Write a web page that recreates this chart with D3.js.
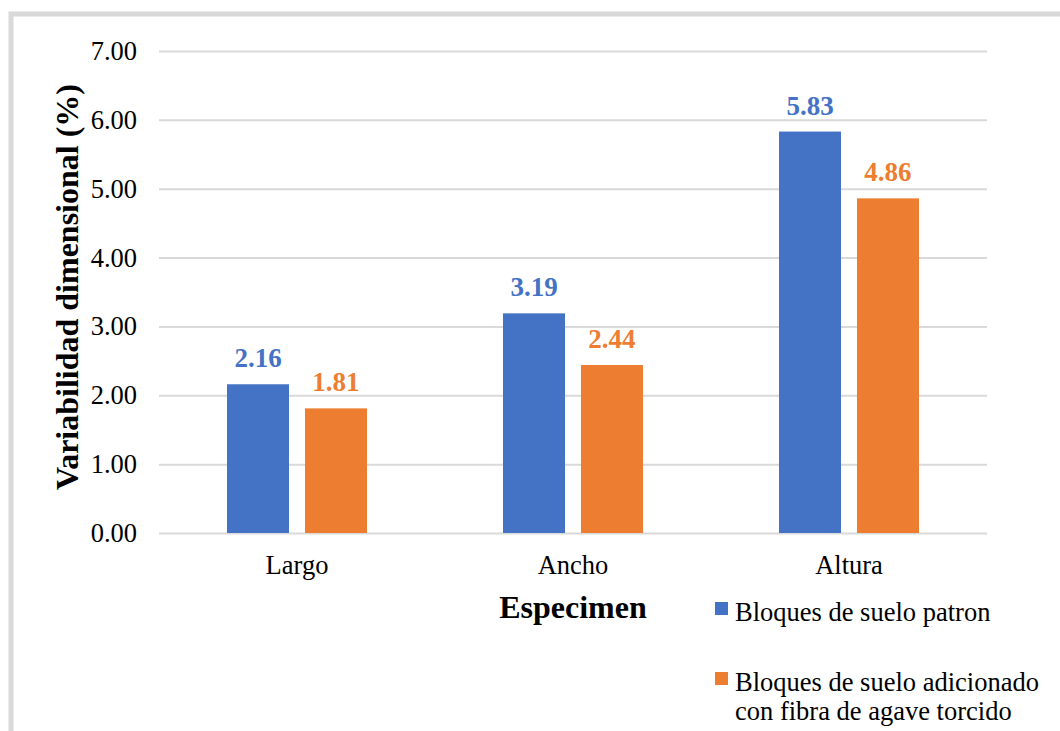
<!DOCTYPE html>
<html lang="es">
  <head>
    <meta charset="utf-8">
    <title>Variabilidad dimensional</title>
    <script src="https://cdn.jsdelivr.net/npm/d3@7"></script>
    <style>
    body{margin:0;background:#fff;}
    svg text{font-family:"Liberation Serif","Times New Roman",serif;fill:#000;}
    .grid line{stroke:#d9d9d9;stroke-width:2px;}
    .grid path{display:none;}
    .axis path,.axis line{display:none;}
    .axis text{font-size:26.5px;font-family:"Liberation Serif","Times New Roman",serif;}
    .vlabel{font-size:27px;font-weight:bold;}
    .title{font-size:32px;font-weight:bold;}
    .legend text{font-size:26.5px;}
    </style>
  </head>
  <body>
    <svg></svg>
    <script>
      var categories=["Largo","Ancho","Altura"];
      var seriesNames=["Bloques de suelo patron","Bloques de suelo adicionado con fibra de agave torcido"];
      var patron=[2.16,3.19,5.83];
      var adicionado=[1.81,2.44,4.86];
      var yTicks=[0,1,2,3,4,5,6,7];
      var colors=["#4472c4","#ed7d31"];

      var width=1060,height=731;
      var plotLeft=159,plotRight=987,plotTop=51,plotBottom=533;

      var svg=d3.select("svg").attr("width",width).attr("height",height);

      // grey frame
      svg.append("path")
         .attr("d","M11,"+height+" L11,14 L"+width+",14")
         .attr("fill","none")
         .attr("stroke","#d9d9d9")
         .attr("stroke-width",5);

      var x=d3.scaleBand().domain(categories).range([plotLeft,plotRight]);
      var xs=d3.scaleBand().domain([0,1]).range([0,x.bandwidth()]).paddingInner(0.205).paddingOuter(0.872);
      var y=d3.scaleLinear().domain([0,7]).range([plotBottom,plotTop]);

      svg.append("g")
         .attr("class","grid")
         .attr("transform","translate("+plotLeft+",0)")
         .call(d3.axisRight(y).tickValues(yTicks).tickSize(plotRight-plotLeft).tickFormat(""));

      svg.append("g")
         .attr("class","axis")
         .attr("transform","translate("+(plotLeft-22)+",0)")
         .call(d3.axisLeft(y).tickValues(yTicks).tickSize(0).tickPadding(0).tickFormat(d3.format(".2f")));

      svg.append("g")
         .attr("class","axis")
         .attr("transform","translate(0,"+(plotBottom+32)+")")
         .call(d3.axisBottom(x).tickSize(0).tickPadding(0))
         .selectAll("text").attr("dy","0.35em");

      var data=[patron,adicionado];
      data.forEach(function(vals,si){
        var g=svg.append("g");
        g.selectAll("rect")
         .data(vals)
         .enter()
         .append("rect")
         .attr("x",function(d,i){return x(categories[i])+xs(si);})
         .attr("width",xs.bandwidth())
         .attr("y",function(d){return y(d);})
         .attr("height",function(d){return y(0)-y(d);})
         .attr("fill",colors[si]);
        g.selectAll("text")
         .data(vals)
         .enter()
         .append("text")
         .attr("class","vlabel")
         .attr("x",function(d,i){return x(categories[i])+xs(si)+xs.bandwidth()/2;})
         .attr("y",function(d){return y(d)-17;})
         .attr("text-anchor","middle")
         .style("fill",colors[si])
         .text(function(d){return d3.format(".2f")(d);});
      });

      svg.append("text")
         .attr("class","title")
         .attr("transform","translate(78,287) rotate(-90)")
         .attr("text-anchor","middle")
         .text("Variabilidad dimensional (%)");

      svg.append("text")
         .attr("class","title")
         .attr("x",573)
         .attr("y",618)
         .attr("text-anchor","middle")
         .text("Especimen");

      var legend=svg.append("g").attr("class","legend");
      var legendRows=[[seriesNames[0]],["Bloques de suelo adicionado","con fibra de agave torcido"]];
      var legendY=[621,691];
      legendRows.forEach(function(lines,i){
        legend.append("rect")
              .attr("x",715).attr("y",legendY[i]-19)
              .attr("width",13).attr("height",13)
              .attr("fill",colors[i]);
        var t=legend.append("text").attr("x",735).attr("y",legendY[i]);
        lines.forEach(function(l,j){
          t.append("tspan").attr("x",735).attr("dy",j==0?0:29).text(l);
        });
      });
    </script>
  </body>
</html>
